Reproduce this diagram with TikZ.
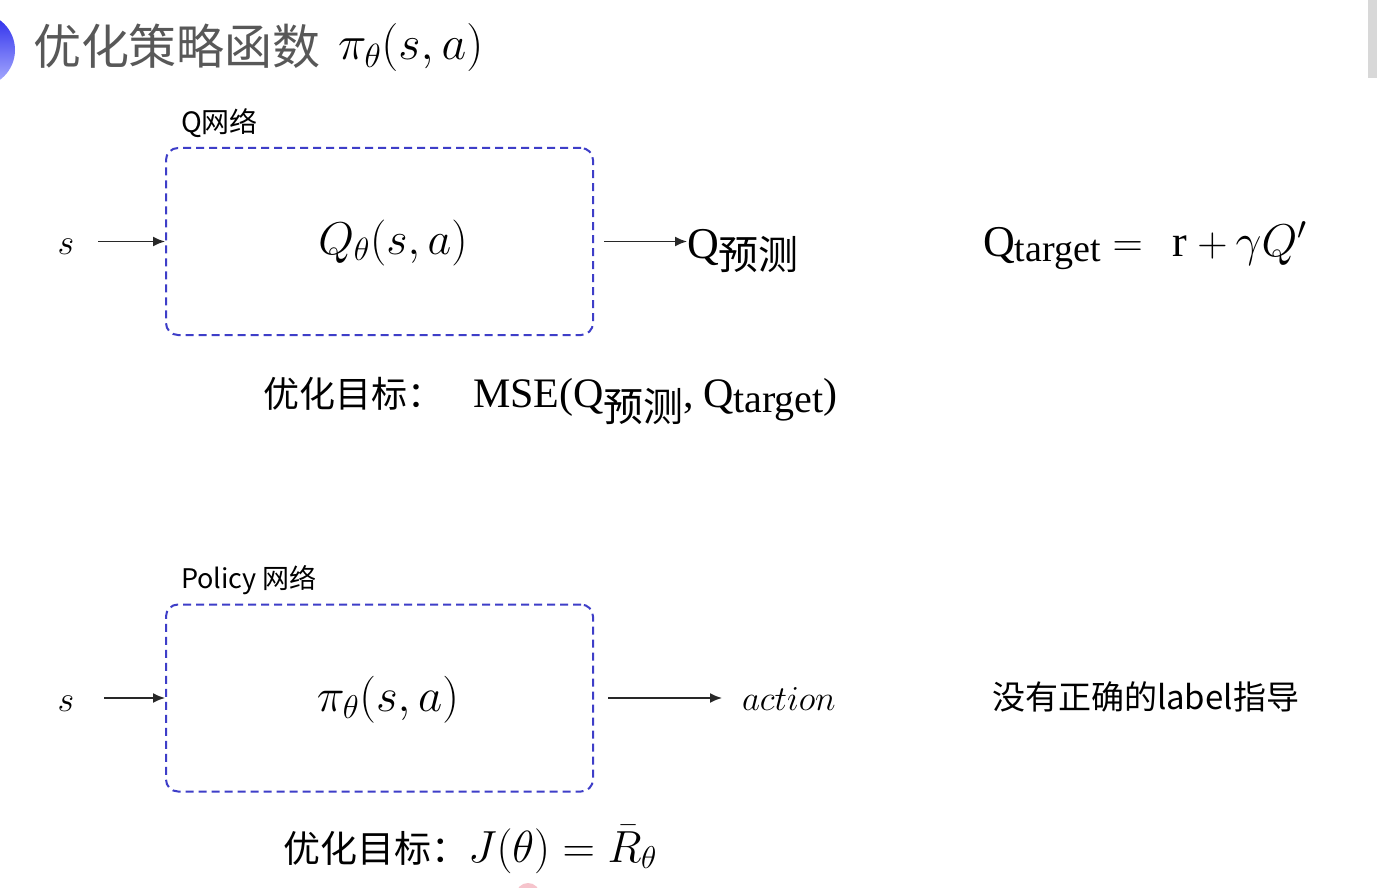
\RequirePackage{fix-cm}
\documentclass[tikz,border=0pt]{standalone}
\usepackage{fontspec}
\newfontfamily\cjk{Noto Sans CJK SC}
\newfontfamily\lsf{Liberation Serif}
\usetikzlibrary{arrows.meta}
\definecolor{boxblue}{RGB}{62,62,200}
\definecolor{titlegray}{RGB}{88,88,88}
\definecolor{arrgray}{RGB}{40,40,40}
\definecolor{bultop}{RGB}{40,40,235}
\definecolor{bulbot}{RGB}{175,180,255}
\definecolor{dotpink}{RGB}{246,196,204}
\definecolor{bargray}{RGB}{216,216,216}
\newcommand{\fs}[1]{\fontsize{#1}{#1}\selectfont}
\tikzset{
  netbox/.style={draw=boxblue, line width=2pt, dash pattern=on 8pt off 5pt,
    rounded corners=12pt, minimum width=427pt, minimum height=187pt, inner sep=0pt},
  conn/.style={draw=arrgray, line width=1.6pt, -{Latex[length=12pt,width=10pt]}},
  txt/.style={inner sep=0pt, outer sep=0pt}
}
\begin{document}
\begin{tikzpicture}[x=1pt,y=-1pt]
\useasboundingbox (0,0) rectangle (1377,888);
\fill[white] (0,0) rectangle (1377,888);
\begin{scope}
  \clip (0,0) rectangle (1377,888);
  \shade[top color=bultop, bottom color=bulbot] (-22,50) circle (37);
  \fill[dotpink] (528,895) circle (12);
\end{scope}
\fill[bargray] (1368,0) rectangle (1377,78);

% title
\node[txt, anchor=base west, text=titlegray, font=\cjk\fs{48}] (title) at (33,65) {优化策略函数};
\node[txt, anchor=base west, font=\fs{48}] (titlemath) at (338,60) {$\pi_\theta(s,a)$};

% Q network
\node[txt, anchor=base west, font=\cjk\fs{28}] (qlabel) at (181,133) {Q网络};
\node[netbox] (qbox) at (379.5,241.5) {};
\node[txt, anchor=base, font=\fs{46}] (qfun) at (393,254) {$Q_\theta(s,a)$};
\node[txt, anchor=base, font=\fs{36}] (s1) at (66,254) {$s$};
\draw[conn] ([xshift=24pt]s1.east |- qbox.west) -- (qbox.west);
\node[txt, anchor=base west] (qpred) at (687,258) {{\lsf\fs{44}Q}\raisebox{-12pt}{\cjk\fs{40}预测}};
\draw[conn, shorten <=10pt] (qbox.east) -- (qbox.east -| qpred.west);
\node[txt, anchor=base west] (qtarget) at (983,256) {{\lsf\fs{44}Q}\raisebox{-5pt}{\lsf\fs{38}target}\hspace{12pt}{\fs{42}$=$}\hspace{30pt}{\lsf\fs{44}r}\hspace{10pt}{\fs{42}$+$}\hspace{8pt}{\fs{46}$\gamma Q'$}};
\node[txt, anchor=base west] (mse) at (263,407) {{\cjk\fs{36}优化目标：}\hspace{30pt}{\lsf\fs{42}MSE(Q}\raisebox{-14pt}{\cjk\fs{40}预测}{\lsf\fs{42},\hspace{9pt}Q}\raisebox{-5pt}{\lsf\fs{40}target}{\lsf\fs{42})}};

% Policy network
\node[txt, anchor=base west, font=\cjk\fs{27}] (plabel) at (181,588) {Policy 网络};
\node[netbox] (pbox) at (379.5,698) {};
\node[txt, anchor=base, font=\fs{47}] (pfun) at (388,711) {$\pi_\theta(s,a)$};
\node[txt, anchor=base, font=\fs{36}] (s2) at (66,711) {$s$};
\draw[conn] ([xshift=30pt]s2.east |- pbox.west) -- (pbox.west);
\node[txt, anchor=base west, font=\fs{35}] (act) at (742,710) {$action$};
\draw[conn, shorten <=14pt] (pbox.east) -- ([xshift=-20pt]pbox.east -| act.west);
\node[txt, anchor=base west, font=\cjk\fs{33}] (nolabel) at (992,709) {没有正确的label指导};
\node[txt, anchor=base west] (jobj) at (283,862) {{\cjk\fs{37}优化目标：}{\fs{45}$J(\theta)=\bar{R}_\theta$}};
\end{tikzpicture}
\end{document}
